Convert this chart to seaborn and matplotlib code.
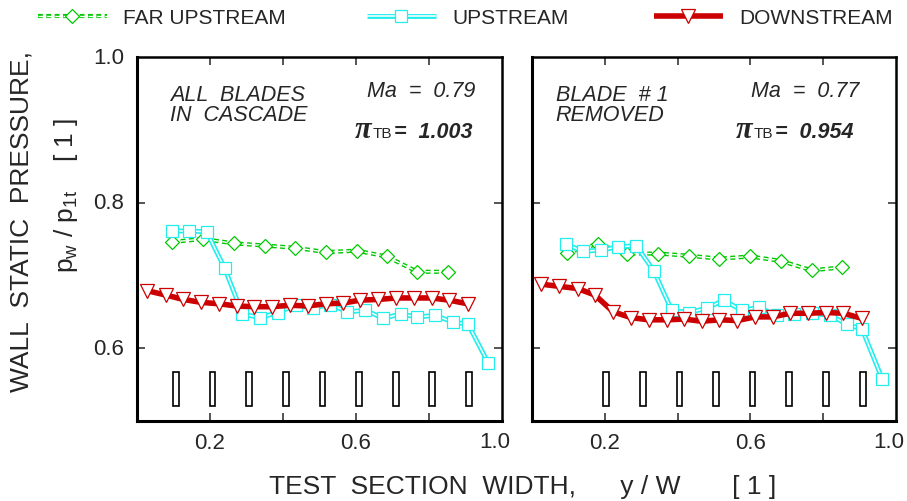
import matplotlib
matplotlib.use("Agg")
import numpy as np
import pandas as pd
import matplotlib.pyplot as plt
import matplotlib.patheffects as pe
from matplotlib.lines import Line2D
from matplotlib.legend_handler import HandlerTuple
from matplotlib.offsetbox import TextArea, HPacker, AnchoredOffsetbox
from matplotlib import font_manager
import seaborn as sns

# ---------------- data: wall static pressure p_w / p_1t versus y / W ----------------
# Panel A: all blades in cascade
far_x_a = [0.097, 0.180, 0.266, 0.351, 0.432, 0.518, 0.602, 0.684, 0.768, 0.853]
far_y_a = [0.746, 0.750, 0.744, 0.741, 0.738, 0.732, 0.734, 0.726, 0.705, 0.705]

up_x_a = [0.097, 0.143, 0.191, 0.240, 0.289, 0.338, 0.385, 0.435, 0.481, 0.530,
          0.576, 0.626, 0.675, 0.722, 0.768, 0.817, 0.865, 0.907, 0.962]
up_y_a = [0.761, 0.761, 0.760, 0.710, 0.647, 0.642, 0.649, 0.659, 0.655, 0.660,
          0.650, 0.652, 0.641, 0.647, 0.643, 0.645, 0.636, 0.633, 0.580]

down_x_a = [0.028, 0.079, 0.127, 0.175, 0.225, 0.273, 0.321, 0.371, 0.419, 0.468,
            0.517, 0.565, 0.611, 0.661, 0.710, 0.759, 0.807, 0.855, 0.906]
down_y_a = [0.679, 0.673, 0.667, 0.663, 0.661, 0.658, 0.657, 0.657, 0.659, 0.658,
            0.661, 0.662, 0.666, 0.667, 0.669, 0.669, 0.669, 0.666, 0.661]

# Panel B: blade #1 removed
far_x_b = [0.095, 0.180, 0.262, 0.347, 0.431, 0.515, 0.599, 0.683, 0.768, 0.852]
far_y_b = [0.731, 0.743, 0.730, 0.730, 0.727, 0.723, 0.726, 0.720, 0.707, 0.711]

up_x_b = [0.093, 0.141, 0.190, 0.237, 0.286, 0.335, 0.384, 0.431, 0.480, 0.527,
          0.576, 0.624, 0.672, 0.720, 0.768, 0.819, 0.866, 0.907, 0.962]
up_y_b = [0.743, 0.733, 0.735, 0.739, 0.741, 0.706, 0.652, 0.649, 0.655, 0.666,
          0.652, 0.656, 0.645, 0.647, 0.648, 0.645, 0.633, 0.626, 0.558]

down_x_b = [0.025, 0.074, 0.125, 0.173, 0.223, 0.272, 0.321, 0.370, 0.418, 0.466,
            0.515, 0.564, 0.613, 0.661, 0.709, 0.759, 0.808, 0.855, 0.906]
down_y_b = [0.688, 0.685, 0.682, 0.673, 0.650, 0.642, 0.639, 0.639, 0.640, 0.637,
            0.639, 0.638, 0.643, 0.643, 0.648, 0.648, 0.649, 0.648, 0.641]

# blade positions in the test section
blades_a = [0.107, 0.207, 0.307, 0.408, 0.508, 0.608, 0.709, 0.809, 0.909]
blades_b = [0.203, 0.304, 0.405, 0.505, 0.606, 0.707, 0.808, 0.909]

series_names = ["FAR UPSTREAM", "UPSTREAM", "DOWNSTREAM"]
panel_notes = [("ALL  BLADES\nIN  CASCADE", "0.79", "1.003"),
               ("BLADE  # 1\nREMOVED", "0.77", "0.954")]
x_ticks = [0.2, 0.4, 0.6, 0.8]
x_ticklabels = ["0.2", "", "0.6", ""]
x_edge_label = "1.0"
y_ticks = [0.6, 0.8, 1.0]
y_ticklabels = ["0.6", "0.8", "1.0"]

# ---------------- style ----------------
sns.set_style("ticks")
available = {f.name for f in font_manager.fontManager.ttflist}
SANS = "Liberation Sans" if "Liberation Sans" in available else "DejaVu Sans"
SERIF = "Liberation Serif" if "Liberation Serif" in available else "DejaVu Serif"
plt.rcParams["font.family"] = [SANS, "DejaVu Sans"]
plt.rcParams["mathtext.fontset"] = "custom"
plt.rcParams["mathtext.rm"] = SANS
plt.rcParams["mathtext.it"] = SANS + ":italic"
plt.rcParams["mathtext.bf"] = SANS + ":bold"
plt.rcParams["lines.scale_dashes"] = False
plt.rcParams["lines.solid_capstyle"] = "butt"
plt.rcParams["lines.dash_capstyle"] = "butt"

GREEN = "#00c800"
CYAN = "#22eeee"
RED = "#cc0000"

styles = {
    "FAR UPSTREAM": dict(color=GREEN, marker="D", ms=7.6, double=True,
                         ls=(0, (3.5, 2.5)), outer=3.0, inner=1.0),
    "UPSTREAM": dict(color=CYAN, marker="s", ms=8.6, double=True,
                     ls="-", outer=3.5, inner=1.1),
    "DOWNSTREAM": dict(color=RED, marker="v", ms=9.8, double=False,
                       ls="-", outer=4.0, inner=0),
}

TICK_FS = 16
LABEL_FS = 19
NOTE_FS = 15.5
LEGEND_FS = 15


def line_kwargs(st):
    if st["double"]:
        return dict(color="white", linewidth=st["inner"], linestyle=st["ls"],
                    path_effects=[pe.Stroke(linewidth=st["outer"], foreground=st["color"]),
                                  pe.Normal()])
    return dict(color=st["color"], linewidth=st["outer"], linestyle=st["ls"])


def marker_kwargs(st):
    return dict(linestyle="none", marker=st["marker"], markersize=st["ms"],
                markerfacecolor="white", markeredgecolor=st["color"],
                markeredgewidth=0.9)


def draw_series(ax, name, x, y):
    st = styles[name]
    df = pd.DataFrame({"y/W": x, "p": y})
    sns.lineplot(data=df, x="y/W", y="p", ax=ax, sort=False, estimator=None,
                 legend=False, **line_kwargs(st))
    ax.plot(x, y, **marker_kwargs(st))


fig = plt.figure(figsize=(9.07, 5.02), dpi=100)
ax_a = fig.add_axes([137 / 907, 80 / 502, 365 / 907, 364 / 502])
ax_b = fig.add_axes([532 / 907, 80 / 502, 364 / 907, 364 / 502])

panels = [
    (ax_a, [(far_x_a, far_y_a), (up_x_a, up_y_a), (down_x_a, down_y_a)], blades_a, panel_notes[0]),
    (ax_b, [(far_x_b, far_y_b), (up_x_b, up_y_b), (down_x_b, down_y_b)], blades_b, panel_notes[1]),
]

for i, (ax, data, blades, notes) in enumerate(panels):
    # blade row drawn as small open rectangles
    ax.bar(blades, 0.046, bottom=0.521, width=0.016, color="white",
           edgecolor="black", linewidth=1.2, zorder=1)
    for name, (x, y) in zip(series_names, data):
        draw_series(ax, name, x, y)

    ax.set_xlim(0, 1.0)
    ax.set_ylim(0.5, 1.0)
    ax.set_xticks(x_ticks)
    ax.set_xticklabels(x_ticklabels)
    ax.set_yticks([0.6, 0.8])
    ax.set_yticklabels(["", ""])
    ax.set_xlabel("")
    ax.set_ylabel("")
    ax.tick_params(direction="in", length=6, width=1.1, top=True, right=True,
                   labelsize=TICK_FS, pad=8)
    for side in ["top", "right", "bottom", "left"]:
        ax.spines[side].set_linewidth(1.8)
        ax.spines[side].set_color("black")
    ax.spines["bottom"].set_linewidth(2.2)
    ax.spines["left"].set_linewidth(2.2)
    # label 1.0 sits just inside the right end of the axis
    ax.text(1.0 + 8 / 365, -0.027, x_edge_label, transform=ax.transAxes, ha="right",
            va="top", fontsize=TICK_FS)

    label_text, ma, pi_val = notes
    ax.text(0.065 if i else 0.09, 0.925, label_text, transform=ax.transAxes,
            ha="left", va="top", fontsize=NOTE_FS, style="italic", linespacing=0.95)
    ax.text(0.90 if i else 0.926, 0.907, f"Ma  =  {ma}", transform=ax.transAxes,
            ha="right", va="center", fontsize=NOTE_FS, style="italic")
    pi_box = HPacker(children=[
        TextArea("\u03c0", textprops=dict(family=SERIF, weight="bold", style="italic",
                                          fontsize=22)),
        TextArea("TB", textprops=dict(fontsize=11)),
        TextArea(f"=  {pi_val}", textprops=dict(weight="bold", style="italic",
                                                fontsize=NOTE_FS)),
    ], align="baseline", pad=0, sep=1)
    anchored = AnchoredOffsetbox(loc="center right", child=pi_box, pad=0, borderpad=0,
                                 frameon=False,
                                 bbox_to_anchor=(0.882 if i else 0.918, 0.80),
                                 bbox_transform=ax.transAxes)
    ax.add_artist(anchored)

# y tick labels on the left panel only
for yv, lab in zip(y_ticks, y_ticklabels):
    ax_a.text(-0.035, yv, lab, transform=ax_a.get_yaxis_transform(), ha="right",
              va="center", fontsize=TICK_FS)

# axis titles
fig.text(22 / 907, 1 - 221 / 502, "WALL  STATIC  PRESSURE,", rotation=90,
         ha="center", va="center", fontsize=LABEL_FS)
fig.text(66 / 907, 1 - 195 / 502,
         r"$\mathregular{p_{w}}$ / $\mathregular{p_{1t}}$    [ 1 ]",
         rotation=90, ha="center", va="center", fontsize=LABEL_FS)
fig.text(523 / 907, 1 - 487 / 502, "TEST  SECTION  WIDTH,      y / W       [ 1 ]",
         ha="center", va="center", fontsize=LABEL_FS)

# legend row across the top: line and marker overlaid in one handle
legend_x = [38 / 907, 367 / 907, 654 / 907]
for name, lx in zip(series_names, legend_x):
    st = styles[name]
    h_line = Line2D([], [], **line_kwargs(st))
    h_mark = Line2D([], [], **marker_kwargs(st))
    fig.legend([(h_line, h_mark)], [name], loc="center left",
               bbox_to_anchor=(lx, 1 - 19 / 502), frameon=False,
               prop=dict(size=LEGEND_FS), handlelength=3.3,
               handletextpad=0.8, borderpad=0, borderaxespad=0,
               handler_map={tuple: HandlerTuple(ndivide=1, pad=0)})

fig.savefig("out.png", dpi=100)
